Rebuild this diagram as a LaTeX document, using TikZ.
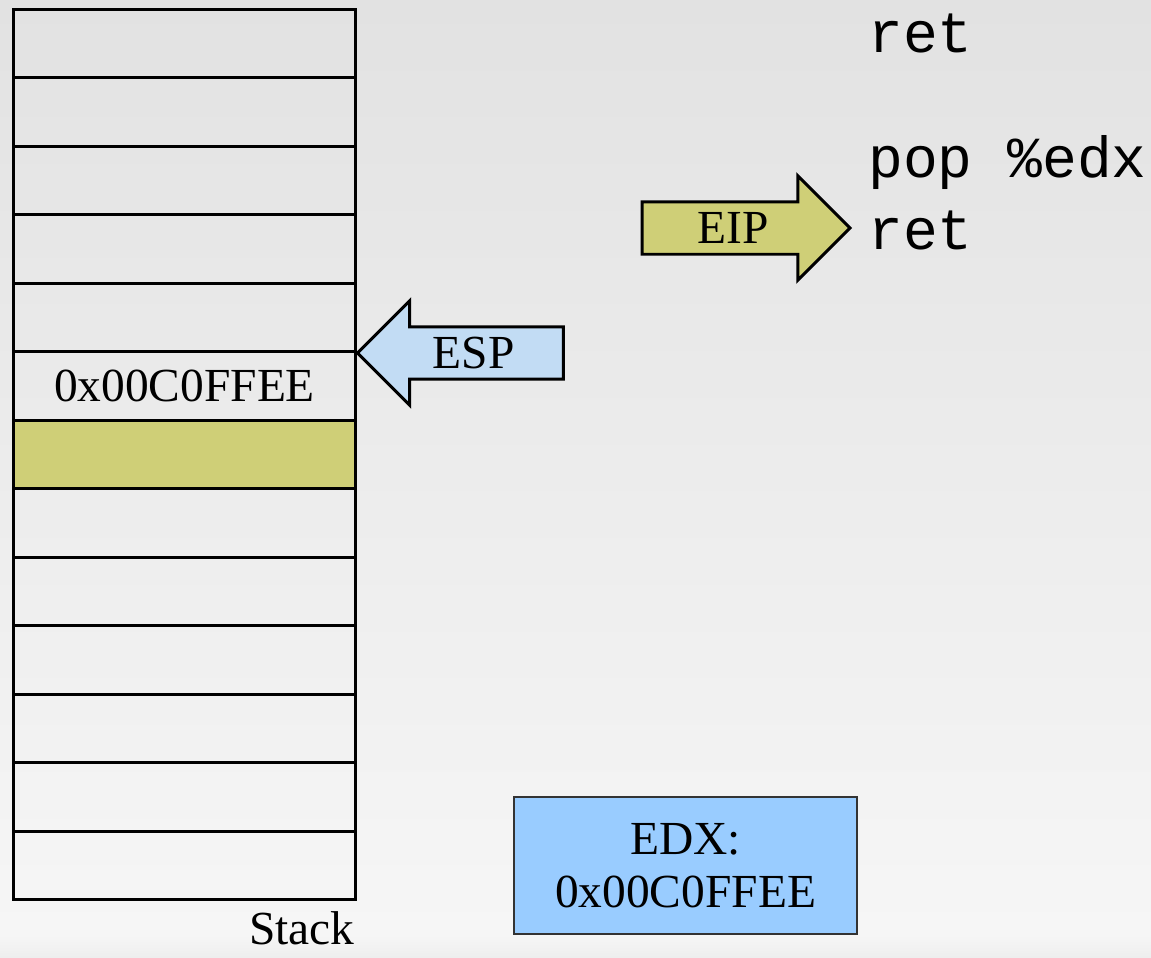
\documentclass[tikz,border=0pt]{standalone}
\usepackage{fontspec}
\setmainfont{Liberation Serif}
\setmonofont{Liberation Mono}
\usetikzlibrary{shapes.arrows,positioning}
\definecolor{bgtop}{HTML}{E2E2E2}
\definecolor{bgbottom}{HTML}{F6F6F6}
\definecolor{bgfoot}{HTML}{EEEEEE}
\definecolor{popolive}{HTML}{CFCF77}
\definecolor{esplight}{HTML}{C2DCF4}
\definecolor{edxblue}{HTML}{99CCFF}
\definecolor{edxframe}{HTML}{333333}

\begin{document}
\begin{tikzpicture}[
  x=0.02cm,
  y=-0.02cm,
  font=\fontsize{27}{30}\selectfont,
  cell/.style={draw, line width=1.7pt, minimum width=6.86cm, minimum height=1.37cm, inner sep=0pt},
  regarrow/.style={single arrow, draw, line width=1.7pt, outer sep=0pt, minimum width=0pt, text height=0.63cm, text depth=0pt, inner ysep=0.18cm, inner xsep=0pt, single arrow head extend=0.52cm, anchor=tip},
  codeline/.style={anchor=base west, inner sep=0pt, font=\ttfamily\fontsize{33}{40}\selectfont},
  register/.style={draw=edxframe, line width=0.7pt, fill=edxblue, minimum width=6.86cm, minimum height=2.74cm, align=center}
]
\shade[top color=bgtop, bottom color=bgbottom] (0,0) rectangle (1151,935);
\shade[top color=bgbottom, bottom color=bgfoot] (0,935) rectangle (1151,957);
\useasboundingbox (0,0) rectangle (1151,957);

% stack
\foreach \i in {1,...,13} {
  \ifnum\i=7 \def\cellfill{popolive}\else\def\cellfill{none}\fi
  \ifnum\i=6 \def\celltext{0x00C0FFEE}\else\def\celltext{}\fi
  \node[cell, fill=\cellfill] (cell\i) at (184.5,{43.25+68.5*(\i-1)}) {\celltext};
}
\node[anchor=base east, inner sep=0pt] (stacklabel) at (355,944) {Stack};

% registers pointing
\node[regarrow, fill=popolive, minimum height=4.16cm] (eip) at (850,228) {EIP};
\node[regarrow, fill=esplight, minimum height=4.12cm, shape border rotate=180] (esp) at (cell5.south east) {ESP};

% code
\node[codeline] (retfirst) at (868,52) {ret};
\node[codeline] (popedx) at (868,177) {pop \%edx};
\node[codeline] (retsecond) at (868,249) {ret};

\node[register] (edx) at (685.5,865.5) {EDX:\\0x00C0FFEE};

\end{tikzpicture}
\end{document}
